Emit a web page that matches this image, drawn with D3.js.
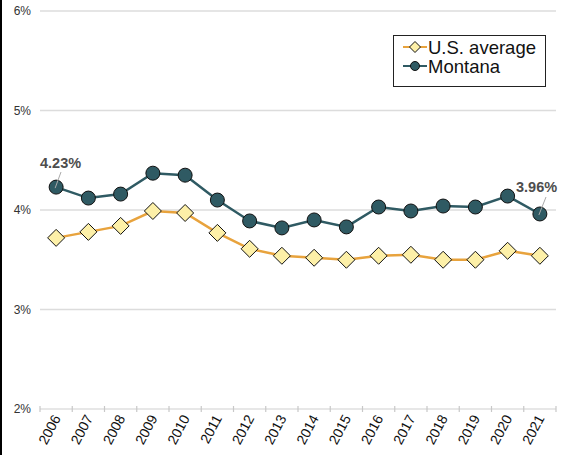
<!DOCTYPE html>
<html><head><meta charset="utf-8">
<script src="https://cdn.jsdelivr.net/npm/d3@7"></script>
<style>body{margin:0;background:#fff;}svg{display:block;font-family:"Liberation Sans",Arial,Helvetica,sans-serif;}</style>
</head><body><svg id="c" width="561" height="455"></svg>
<script>
const years = ["2006","2007","2008","2009","2010","2011","2012","2013","2014","2015","2016","2017","2018","2019","2020","2021"];
const usAverage = [3.72,3.78,3.84,3.99,3.97,3.77,3.61,3.54,3.52,3.50,3.54,3.55,3.50,3.50,3.59,3.54];
const montana = [4.23,4.12,4.16,4.37,4.35,4.10,3.89,3.82,3.90,3.83,4.03,3.99,4.04,4.03,4.14,3.96];
const yTicks = [2,3,4,5,6];
const seriesNames = ["U.S. average","Montana"];

const svg = d3.select("#c");
const W = 561, H = 455;
const m = {l:40, r:5, t:11, b:46};
const x = d3.scaleBand().domain(years).range([m.l, 556]);
const y = d3.scaleLinear().domain([2,6]).range([409, 11]);

// left frame line
svg.append("rect").attr("x",0).attr("y",0).attr("width",2).attr("height",H).attr("fill","#000");

// gridlines
svg.append("g").selectAll("line").data(yTicks.filter(d=>d>2)).join("line")
  .attr("x1",m.l).attr("x2",556).attr("y1",d=>y(d)).attr("y2",d=>y(d))
  .attr("stroke","#dcdcdc").attr("stroke-width",1.5);
svg.append("g").selectAll("text").data(yTicks).join("text")
  .attr("x",31).attr("y",d=>y(d)+4).attr("text-anchor","end")
  .attr("font-size",12).attr("fill","#333").text(d=>d+"%");

// x axis
const xa = svg.append("g");
xa.append("line").attr("x1",m.l).attr("x2",556).attr("y1",y(2)).attr("y2",y(2)).attr("stroke","#d0d0d0").attr("stroke-width",1.2);
const bounds = years.map(d=>x(d)).concat([x(years[years.length-1])+x.bandwidth()]);
xa.selectAll("line.t").data(bounds).join("line").attr("class","t")
  .attr("x1",d=>d).attr("x2",d=>d).attr("y1",y(2)-3).attr("y2",y(2)+3)
  .attr("stroke","#c8c8c8").attr("stroke-width",1.2);
xa.selectAll("text").data(years).join("text")
  .attr("transform",d=>`translate(${x(d)+x.bandwidth()/2+5},${y(2)+9}) rotate(-62)`)
  .attr("text-anchor","end").attr("font-size",14).attr("fill","#111").text(d=>d);

const cx = d=>x(d)+x.bandwidth()/2;
const line = d3.line().x((v,i)=>cx(years[i])).y(v=>y(v));

// US line
svg.append("path").datum(usAverage).attr("d",line).attr("fill","none")
  .attr("stroke","#e8a33d").attr("stroke-width",2.5);
// Montana line
svg.append("path").datum(montana).attr("d",line).attr("fill","none")
  .attr("stroke","#2f5a63").attr("stroke-width",2.5);

const diamond = (s)=>`M0,${-s}L${s},0L0,${s}L${-s},0Z`;
svg.append("g").selectAll("path").data(usAverage).join("path")
  .attr("transform",(v,i)=>`translate(${cx(years[i])},${y(v)})`)
  .attr("d",diamond(8.5)).attr("fill","#fdf0a8").attr("stroke","#111").attr("stroke-width",1);
svg.append("g").selectAll("circle").data(montana).join("circle")
  .attr("cx",(v,i)=>cx(years[i])).attr("cy",v=>y(v)).attr("r",7)
  .attr("fill","#2f5a63").attr("stroke","#111").attr("stroke-width",1);

// annotations
function annot(i, tx, ty, lx1, ly1){
  const px = cx(years[i]), py = y(montana[i]);
  svg.append("line").attr("x1",lx1).attr("y1",ly1).attr("x2",px-1).attr("y2",py+1)
    .attr("stroke","#aaa").attr("stroke-width",1);
  svg.append("text").attr("x",tx).attr("y",ty).attr("font-size",14.5).attr("font-weight","bold")
    .attr("fill","#4d4d4d").text(montana[i].toFixed(2)+"%");
}
annot(0, 40, 168, 61, 172);
annot(15, 516, 192, 546, 197);

// legend
const lg = svg.append("g");
lg.append("rect").attr("x",393.5).attr("y",35.5).attr("width",152).attr("height",51)
  .attr("fill","#fff").attr("stroke","#222").attr("stroke-width",1);
const lcol = ["#e8a33d","#2f5a63"];
seriesNames.forEach((n,i)=>{
  const yy = 47 + i*19;
  lg.append("line").attr("x1",403).attr("x2",427).attr("y1",yy).attr("y2",yy).attr("stroke",lcol[i]).attr("stroke-width",2);
  if(i===0) lg.append("path").attr("transform",`translate(415,${yy})`).attr("d",diamond(5.5)).attr("fill","#fdf0a8").attr("stroke","#111").attr("stroke-width",1);
  else lg.append("circle").attr("cx",415).attr("cy",yy).attr("r",4.5).attr("fill","#2f5a63").attr("stroke","#111").attr("stroke-width",1);
  lg.append("text").attr("x",428).attr("y",yy+6.5).attr("font-size",18.5).attr("fill","#111").text(n);
});
</script></body></html>
